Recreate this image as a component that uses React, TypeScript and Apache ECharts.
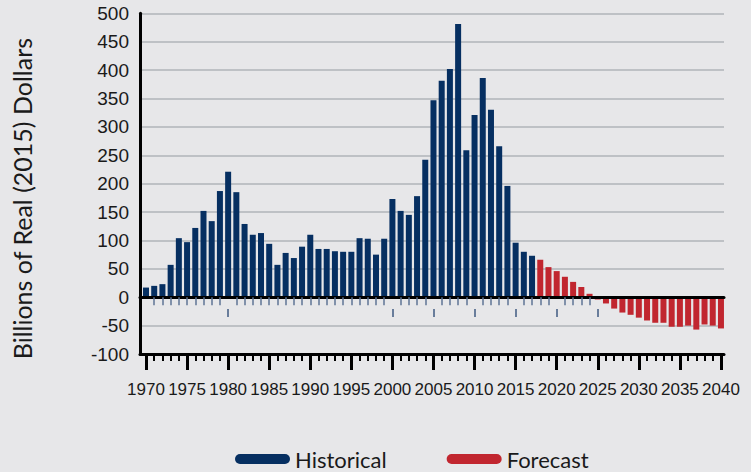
import React, { useEffect, useRef } from "react";
import * as echarts from "echarts";

const historicalStart = 1970;
const historical = [
  17, 20, 23, 57, 104, 97, 122, 152, 134, 187,
  221, 185, 129, 110, 113, 94, 57, 78, 69, 89,
  110, 85, 85, 81, 80, 80, 104, 103, 75, 103,
  173, 152, 145, 178, 242, 347, 381, 402, 481, 259,
  321, 386, 330, 266, 196, 96, 80, 73,
];
const forecastStart = 2018;
const forecast = [
  66, 53, 46, 36, 27, 18, 6, -4, -11, -20,
  -27, -31, -36, -41, -45, -45, -52, -52, -50, -57,
  -48, -50, -55,
];
const labelYears = [1970, 1975, 1980, 1985, 1990, 1995, 2000, 2005, 2010, 2015, 2020, 2025, 2030, 2035, 2040];
const yearTicks: number[] = [];
for (let y = 1970; y <= 2040; y++) yearTicks.push(y);
const lowerTickYears = [1980, 2000, 2005, 2010, 2015, 2020, 2025];
const zeroTickYears = yearTicks.filter((y) => y > 1970 && y < 2025 && !lowerTickYears.includes(y));

const narrow = "'Liberation Sans', Roboto, sans-serif";
const sans = "Lato, 'Noto Sans', sans-serif";
const X_MIN = 1969.27;
const X_MAX = 2040.37;

export default function App() {
  const ref = useRef<HTMLDivElement>(null);
  useEffect(() => {
    const chart = echarts.init(ref.current!, null, { renderer: "svg" });
    const hist = historical.map((v, i) => [historicalStart + i, v]);
    const fc = forecast.map((v, i) => [forecastStart + i, v]);
    const baseX = {
      type: "value",
      min: X_MIN,
      max: X_MAX,
      position: "bottom",
      splitLine: { show: false },
      axisLabel: { show: false },
    };
    chart.setOption({
      animation: false,
      backgroundColor: "#e7e7e9",
      grid: { left: 140, right: 27, top: 13.3, bottom: 118 },
      legend: {
        left: 230,
        top: 443,
        itemWidth: 55,
        itemHeight: 10,
        itemGap: 60,
        icon: "path://M5 0H50A5 5 0 0 1 50 10H5A5 5 0 0 1 5 0Z",
        textStyle: { fontSize: 22, fontFamily: sans, color: "#1a1a1a" },
        data: ["Historical", "Forecast"],
      },
      xAxis: [
        {
          ...baseX,
          axisLine: { show: true, onZero: false, lineStyle: { color: "#000", width: 3 } },
          axisTick: { show: true, customValues: labelYears, length: 16, lineStyle: { color: "#000", width: 3 } },
          axisLabel: {
            show: true,
            customValues: labelYears,
            showMinLabel: true,
            showMaxLabel: true,
            hideOverlap: false,
            formatter: (v: number) => String(Math.round(v)),
            margin: 27,
            fontSize: 17,
            fontFamily: narrow,
            color: "#1a1a1a",
          },
        },
        {
          ...baseX,
          axisLine: { show: false, onZero: false },
          axisTick: { show: true, customValues: yearTicks, length: 7, lineStyle: { color: "#000", width: 2 } },
        },
        {
          ...baseX,
          z: 5,
          axisLine: { show: true, onZero: true, lineStyle: { color: "#000", width: 3 } },
          axisTick: { show: true, customValues: zeroTickYears, length: 8, lineStyle: { color: "#5f7595", width: 1.5 } },
        },
        {
          ...baseX,
          offset: -45,
          axisLine: { show: false, onZero: false },
          axisTick: { show: true, customValues: lowerTickYears, length: 8, lineStyle: { color: "#3f5a80", width: 1.5 } },
        },
      ],
      yAxis: {
        type: "value",
        min: -100,
        max: 500,
        interval: 50,
        axisLine: { show: true, onZero: false, lineStyle: { color: "#000", width: 3 } },
        axisTick: { show: false },
        axisLabel: { margin: 11, fontSize: 19, fontFamily: narrow, color: "#1a1a1a" },
        splitLine: { show: true, lineStyle: { color: "#b1b4b8", width: 1.5 } },
        name: "Billions of Real (2015) Dollars",
        nameLocation: "middle",
        nameGap: 106,
        nameTextStyle: { fontSize: 25, fontFamily: sans, color: "#1a1a1a", padding: [0, 30, 0, 0] },
      },
      series: [
        {
          name: "Historical",
          type: "bar",
          xAxisIndex: 0,
          data: hist,
          barWidth: 6,
          barGap: "-100%",
          itemStyle: { color: "#062f61" },
        },
        {
          name: "Forecast",
          type: "bar",
          xAxisIndex: 0,
          data: fc,
          barWidth: 6,
          barGap: "-100%",
          itemStyle: { color: "#c1262f" },
        },
      ],
    });
    return () => chart.dispose();
  }, []);
  return (
    <div
      ref={ref}
      style={{ position: "absolute", left: 0, top: 0, width: 751, height: 472, background: "#e7e7e9" }}
    />
  );
}
